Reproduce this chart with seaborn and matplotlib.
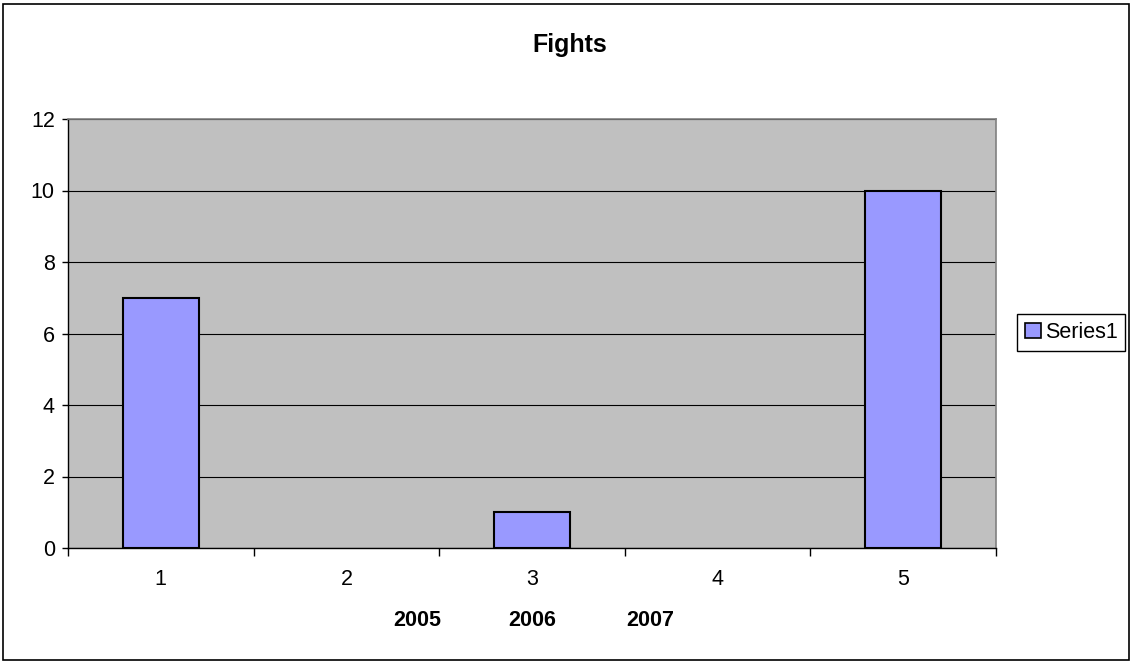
import pandas as pd
import numpy as np
import matplotlib.pyplot as plt
import matplotlib.patches as patches
import seaborn as sns

categories = ['1', '2', '3', '4', '5']
values = [7, 0, 1, 0, 10]
years = ['2005', '2006', '2007']
year_x = [417, 532, 650]   # pixel centres of the year labels

sns.set_style('white')
plt.rcParams['font.family'] = ['Liberation Sans', 'DejaVu Sans']
plt.rcParams['text.color'] = 'black'
plt.rcParams['xtick.color'] = 'black'
plt.rcParams['ytick.color'] = 'black'

W, H = 1133, 664
fig = plt.figure(figsize=(W / 100, H / 100), dpi=100)
ax = fig.add_axes([68 / W, 1 - 548 / H, (996 - 68) / W, (548 - 119) / H])

df = pd.DataFrame({'cat': categories, 'val': values})
sns.barplot(data=df, x='cat', y='val', order=categories, color='#9999FF',
            edgecolor='black', linewidth=1.5, width=0.41, saturation=1,
            ax=ax, zorder=3)
# Excel draws nothing for a zero-height bar
for p in ax.patches:
    if p.get_height() == 0:
        p.set_linewidth(0)

ax.set_facecolor('#C0C0C0')
ax.set_xlim(-0.5, len(categories) - 0.5)
ax.set_ylim(0, 12)
ax.set_yticks(np.arange(0, 13, 2))
ax.yaxis.grid(True, color='black', linewidth=0.8, zorder=1)
ax.set_axisbelow(True)
ax.set_xlabel('')
ax.set_ylabel('')

for s in ['top', 'right']:
    ax.spines[s].set_color('#808080')
    ax.spines[s].set_linewidth(1.2)
for s in ['left', 'bottom']:
    ax.spines[s].set_color('black')
    ax.spines[s].set_linewidth(1.0)

ax.tick_params(axis='y', which='major', direction='out', length=4.5, width=1,
               color='black', labelcolor='black', labelsize=15.5, pad=5, left=True)
ax.tick_params(axis='x', which='major', length=0, labelcolor='black',
               labelsize=15.5, pad=15)
ax.set_xticks(np.arange(-0.5, len(categories), 1), minor=True)
ax.tick_params(axis='x', which='minor', direction='out', length=6, width=1,
               color='black', bottom=True)

for yr, xp in zip(years, year_x):
    fig.text(xp / W, 1 - 620 / H, yr, ha='center', va='center',
             fontsize=15.5, fontweight='bold', color='black')

fig.text(570 / W, 1 - 52 / H, 'Fights', ha='center', va='baseline',
         fontsize=18, fontweight='bold', color='black')

leg_handle = patches.Patch(facecolor='#9999FF', edgecolor='black', linewidth=1.2)
leg = fig.legend([leg_handle], ['Series1'], loc='center left',
                 bbox_to_anchor=(1017 / W, 1 - 332.5 / H), borderaxespad=0,
                 fancybox=False, edgecolor='black', framealpha=1, fontsize=15.5,
                 handlelength=0.75, handleheight=0.75, handletextpad=0.2,
                 borderpad=0.35, labelcolor='black')

fig.patches.append(patches.Rectangle((3 / W, 4 / H), (1129 - 3) / W, (660 - 4) / H,
                                     transform=fig.transFigure, fill=False,
                                     edgecolor='black', linewidth=1.2))

fig.savefig('out.png', dpi=100)
